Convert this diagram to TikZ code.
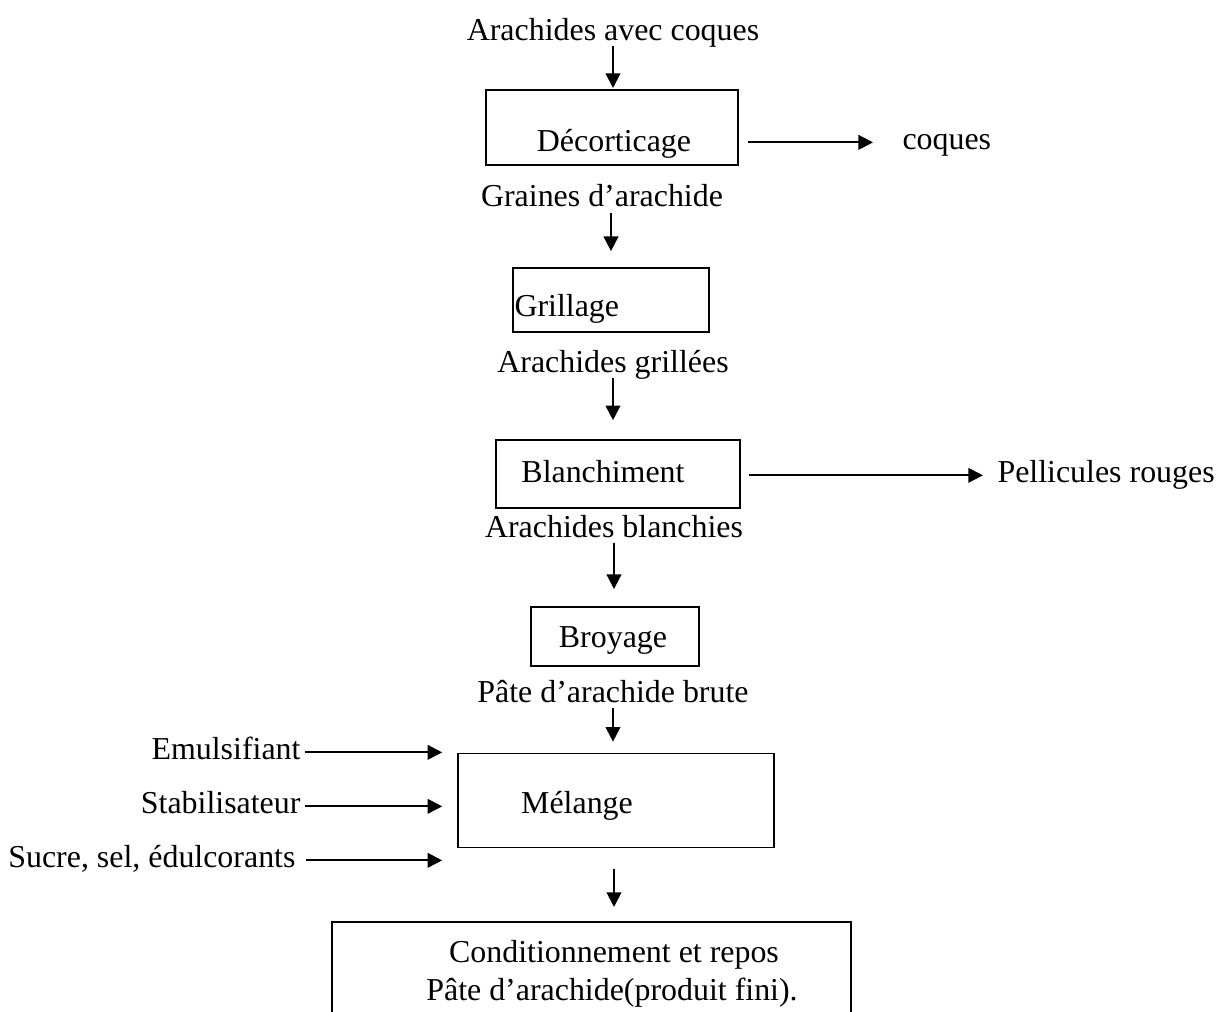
\documentclass[tikz,border=0pt]{standalone}
\usepackage{fontspec}
\setmainfont{Liberation Serif}
\usetikzlibrary{arrows.meta}

\begin{document}
\begin{tikzpicture}[x=0.376pt, y=-0.376pt, font=\fontsize{12}{14}\selectfont,
  texte/.style={inner sep=0pt, text height=5pt, text depth=0pt},
  etape/.style={draw, line width=0.7pt, inner sep=0pt},
  taille/.style 2 args={minimum width=#1*0.376pt, minimum height=#2*0.376pt},
  fleche/.style={-{Triangle[length=5.5pt, width=5.5pt]}, line width=0.75pt}]
\useasboundingbox (0,0) rectangle (1216,1012);
\clip (0,0) rectangle (1216,1012);

% boites
\node[etape, taille={252}{75}] (decbox) at (612,127.5) {};
\node[etape, taille={196}{64}] (grilbox) at (611,300) {};
\node[etape, taille={244}{68}] (blanbox) at (618,474) {};
\node[etape, taille={168}{59}] (broybox) at (615,636.5) {};
\node[etape, taille={316}{94}] (melbox) at (616,800.5) {};
\node[etape, taille={519}{278}] (condbox) at (591.5,1061) {};

% textes
\node[texte, anchor=base] (t0) at (613,40) {Arachides avec coques};
\node[texte, anchor=base] (decort) at (614,151) {Décorticage};
\node[texte, anchor=base west] (coques) at (902,149) {coques};
\node[texte, anchor=base] (t1) at (602,206) {Graines d’arachide};
\node[texte, anchor=base west] (grill) at (514,316) {Grillage};
\node[texte, anchor=base] (t2) at (613,372) {Arachides grillées};
\node[texte, anchor=base] (blanch) at (603,482) {Blanchiment};
\node[texte, anchor=base west] (pell) at (997,482) {Pellicules rouges};
\node[texte, anchor=base] (t3) at (614,537) {Arachides blanchies};
\node[texte, anchor=base] (broy) at (613,647) {Broyage};
\node[texte, anchor=base] (t4) at (613,702) {Pâte d’arachide brute};
\node[texte, anchor=base] (mel) at (577,813) {Mélange};
\node[texte, anchor=base east] (emul) at (301,759) {Emulsifiant};
\node[texte, anchor=base east] (stab) at (301,813) {Stabilisateur};
\node[texte, anchor=base east] (sucre) at (296,867) {Sucre, sel, édulcorants};
\node[texte, anchor=base] (cond) at (614,962) {Conditionnement et repos};
\node[texte, anchor=base] (fini) at (612,1000) {Pâte d’arachide(produit fini).};

% fleches verticales
\draw[fleche, shorten <=1.9pt, shorten >=0.4pt] (t0.south) -- (t0.south |- decbox.north);
\draw[fleche, shorten <=2.3pt, shorten >=6pt] (t1.south -| grilbox.north) -- (grilbox.north);
\draw[fleche, shorten <=1.9pt, shorten >=7.1pt] (t2.south) -- (t2.south |- blanbox.north);
\draw[fleche, shorten <=1.9pt, shorten >=6.4pt] (t3.south) -- (t3.south |- broybox.north);
\draw[fleche, shorten <=1.9pt, shorten >=4.1pt] (t4.south) -- (t4.south |- melbox.north);
\draw[fleche, shorten <=7.9pt, shorten >=5.3pt] (melbox.south -| cond) -- (cond |- condbox.north);

% sorties
\draw[fleche, shorten <=3.4pt, shorten >=10.9pt] (coques.west -| decbox.east) -- (coques.west);
\draw[fleche, shorten <=3pt, shorten >=5.3pt] (pell.west -| blanbox.east) -- (pell.west);

% ajouts
\draw[fleche, shorten <=1.5pt, shorten >=5.6pt] (emul.east) -- (emul.east -| melbox.west);
\draw[fleche, shorten <=1.5pt, shorten >=5.6pt] (stab.east) -- (stab.east -| melbox.west);
\draw[fleche, shorten <=3.8pt, shorten >=5.6pt] (sucre.east) -- (sucre.east -| melbox.west);
\end{tikzpicture}
\end{document}
